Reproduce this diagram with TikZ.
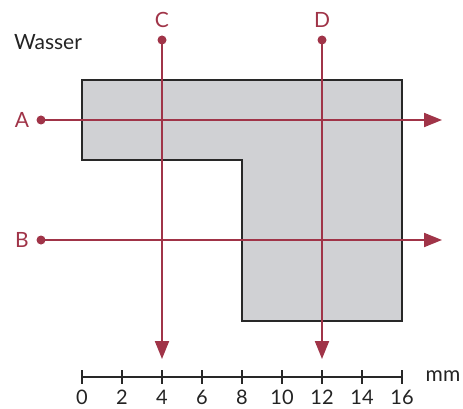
\documentclass[tikz,border=0pt]{standalone}
\usepackage{fontspec}
\setmainfont{Lato}
\usetikzlibrary{arrows.meta}
\definecolor{cutred}{RGB}{160,52,72}
\definecolor{shapegray}{RGB}{208,209,212}
\definecolor{edgegray}{RGB}{40,40,40}
\definecolor{txtgray}{RGB}{35,35,35}
\tikzset{
  cutline/.style={draw=cutred, line width=2pt, -{Triangle[length=18pt,width=14pt]}},
  cutdot/.style={circle, fill=cutred, inner sep=0pt, minimum size=9pt},
  cutlabel/.style={text=cutred, font=\fontsize{21}{24}\selectfont, inner sep=0pt},
  plainlabel/.style={text=txtgray, font=\fontsize{21}{24}\selectfont, inner sep=0pt},
  numlabel/.style={text=txtgray, font=\fontsize{20}{22}\selectfont, inner sep=0pt},
}
\begin{document}
\begin{tikzpicture}[x=1pt,y=-1pt]
\useasboundingbox (0,0) rectangle (463,409);
% shape
\draw[fill=shapegray, draw=edgegray, line width=1.3pt]
  (82,80) -- (402,80) -- (402,321) -- (242,321) -- (242,160) -- (82,160) -- cycle;
% labels
\node[plainlabel] (wasser) at (48,42) {Wasser};
% cut A
\node[cutdot] (adot) at (41,120) {};
\coordinate (aend) at (442,120);
\node[cutlabel] (alab) at (22,120) {A};
\draw[cutline] (adot.center) -- (aend);
% cut B
\node[cutdot] (bdot) at (41,240) {};
\coordinate (bend) at (442,240);
\node[cutlabel] (blab) at (22,240) {B};
\draw[cutline] (bdot.center) -- (bend);
% cut C
\node[cutdot] (cdot) at (162,40) {};
\coordinate (cend) at (162,359);
\node[cutlabel] (clab) at (162,20) {C};
\draw[cutline] (cdot.center) -- (cend);
% cut D
\node[cutdot] (ddot) at (322,40) {};
\coordinate (dend) at (322,359);
\node[cutlabel] (dlab) at (322,20) {D};
\draw[cutline] (ddot.center) -- (dend);
% scale
\coordinate (s0) at (82,377);
\coordinate (s16) at (402,377);
\draw[edgegray, line width=1.2pt] (s0) -- (s16);
\foreach \i in {0,2,...,16} {
  \draw[edgegray, line width=1.2pt] (82+20*\i,370) -- (82+20*\i,384);
  \node[numlabel] (n\i) at (82+20*\i,397.5) {\i};
}
\node[plainlabel] (mm) at (443,376) {mm};
\end{tikzpicture}
\end{document}
